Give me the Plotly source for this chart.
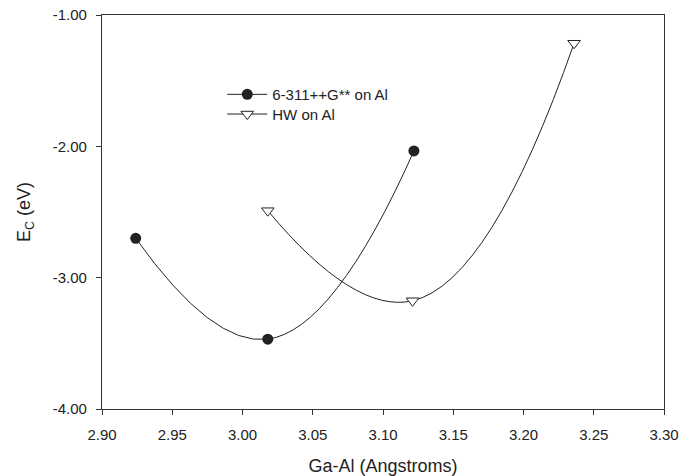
import plotly.graph_objects as go

# Data
x_631 = [2.924, 3.018, 3.122]
y_631 = [-2.70, -3.468, -2.035]
x_hw = [3.018, 3.121, 3.236]
y_hw = [-2.49, -3.176, -1.215]
name_631 = "6-311++G** on Al"
name_hw = "HW on Al"
x_ticks = [2.90, 2.95, 3.00, 3.05, 3.10, 3.15, 3.20, 3.25, 3.30]
y_ticks = [-4.00, -3.00, -2.00, -1.00]

FONT = "Liberation Sans, Arial, Helvetica, sans-serif"
INK = "#222222"

fig = go.Figure()
fig.add_trace(go.Scatter(
    x=x_631, y=y_631, name=name_631, mode="lines+markers", legend="legend",
    line=dict(color=INK, width=1, shape="spline", smoothing=1.3),
    marker=dict(symbol="circle", size=11, color=INK, line=dict(color=INK, width=0)),
))
fig.add_trace(go.Scatter(
    x=x_hw, y=y_hw, name=name_hw, mode="lines+markers", legend="legend2",
    line=dict(color=INK, width=1, shape="spline", smoothing=1.3),
    marker=dict(symbol="triangle-down", size=11, color="white", line=dict(color=INK, width=1)),
))

axis_common = dict(
    showline=True, mirror=True, linecolor="#333333", linewidth=1.2,
    ticks="outside", ticklen=5, tickwidth=1, tickcolor="#333333",
    showgrid=False, zeroline=False, automargin=False,
    tickfont=dict(family=FONT, size=15, color=INK),
)
fig.update_xaxes(
    range=[2.90, 3.30], tickvals=x_ticks, ticktext=[f"{v:.2f}" for v in x_ticks],
    title=dict(text="Ga-Al (Angstroms)", font=dict(family=FONT, size=18, color=INK), standoff=20),
    ticklabelstandoff=7,
    **axis_common,
)
fig.update_yaxes(
    range=[-4.00, -1.00], tickvals=y_ticks, ticktext=[f"{v:.2f}" for v in y_ticks],
    title=dict(text="E<sub>C</sub> (eV)", font=dict(family=FONT, size=18, color=INK), standoff=17),
    ticklabelstandoff=6,
    **axis_common,
)
leg_common = dict(xanchor="left", yanchor="middle", bgcolor="rgba(0,0,0,0)",
                  font=dict(family=FONT, size=15, color=INK), itemwidth=40)
fig.update_layout(
    width=697, height=476,
    margin=dict(l=102, r=33, t=15, b=67),
    paper_bgcolor="white", plot_bgcolor="white",
    font=dict(family=FONT, color=INK),
    showlegend=True,
    legend=dict(x=0.214, y=0.798, **leg_common),
    legend2=dict(x=0.214, y=0.748, **leg_common),
)
fig.write_html("out.html")
